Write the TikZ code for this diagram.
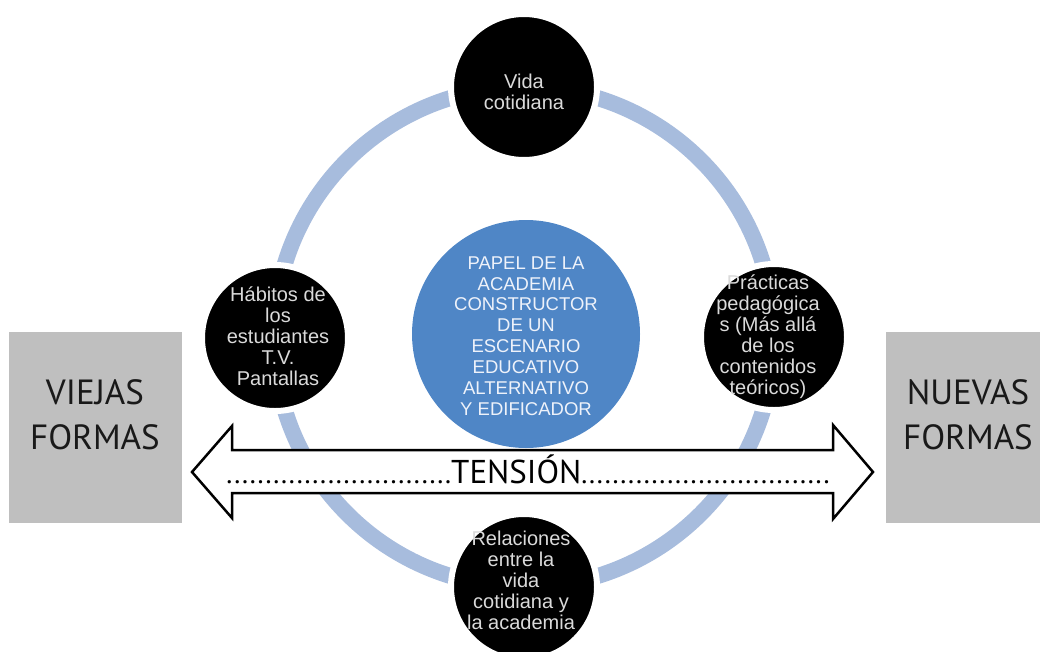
\documentclass[tikz,border=0pt]{standalone}
\usepackage{fontspec}
\setmainfont{Liberation Sans}
\newfontfamily\myr{PT Sans}
\definecolor{ringblue}{HTML}{A7BCDD}
\definecolor{midblue}{HTML}{4F86C6}
\definecolor{boxgrey}{HTML}{BFBFBF}
\definecolor{lighttext}{HTML}{DADADA}
\definecolor{centertext}{HTML}{EEF2FA}
\tikzset{
  blackdot/.style={circle, fill=black, draw=white, line width=6pt, minimum size=146pt, inner sep=0pt},
  blacktext/.style={text=lighttext, align=center, font=\fontsize{20}{21}\selectfont, inner sep=0pt},
  centredot/.style={circle, fill=midblue, minimum size=228pt, inner sep=0pt},
  centretext/.style={text=centertext, align=center, font=\fontsize{18.5}{20.9}\selectfont, inner sep=0pt},
  greybox/.style={fill=boxgrey, draw=none},
  boxtext/.style={text=black!90, align=center, font=\myr\fontsize{35}{45}\selectfont, inner sep=0pt},
  tensionarrow/.style={fill=white, draw=black, line width=2.5pt, line join=miter},
}
\begin{document}
\begin{tikzpicture}[x=1pt,y=-1pt]
\useasboundingbox (0,0) rectangle (1046,651);
\clip (0,0) rectangle (1046,651);
% ring
\coordinate (ringc) at (524,337);
\draw[ringblue, line width=16pt] (ringc) circle[radius=250];
% centre
\node[centredot] (centre) at (526,334) {};
\node[centretext] (centrelbl) at (526,336) {PAPEL DE LA\\ACADEMIA\\CONSTRUCTOR\\DE UN\\ESCENARIO\\EDUCATIVO\\ALTERNATIVO\\Y EDIFICADOR};
% outer circles
\node[blackdot] (top) at (524,87) {};
\node[blacktext] (toplbl) at (524,92) {Vida\\cotidiana};
\node[blackdot] (left) at (275,338) {};
\node[blacktext] (leftlbl) at (278,336) {Hábitos de\\los\\estudiantes\\T.V.\\Pantallas};
\node[blackdot] (right) at (774,337) {};
\node[blacktext] (rightlbl) at (768,337) {Prácticas\\pedagógica\\s (Más allá\\de los\\contenidos\\teóricos)};
\node[blackdot] (bottom) at (524,587) {};
\node[blacktext] (bottomlbl) at (521,580) {Relaciones\\entre la\\vida\\cotidiana y\\la academia};
% grey boxes
\fill[greybox] (9,332) rectangle (182,523);
\node[boxtext] (oldforms) at (95,415) {VIEJAS\\FORMAS};
\fill[greybox] (886,332) rectangle (1040,523);
\node[boxtext] (newforms) at (968,415) {NUEVAS\\FORMAS};
% tension double arrow
\draw[tensionarrow] (192,472) -- (232,426) -- (232,450) -- (833,450) -- (833,425) -- (873,472) -- (833,519) -- (833,493) -- (232,493) -- (232,518) -- cycle;
\node[anchor=base, inner sep=0pt, font=\myr\fontsize{28}{30}\selectfont] (tension) at (528,483) {.............................{\fontsize{33}{35}\selectfont TENSIÓN}................................};
\end{tikzpicture}
\end{document}
